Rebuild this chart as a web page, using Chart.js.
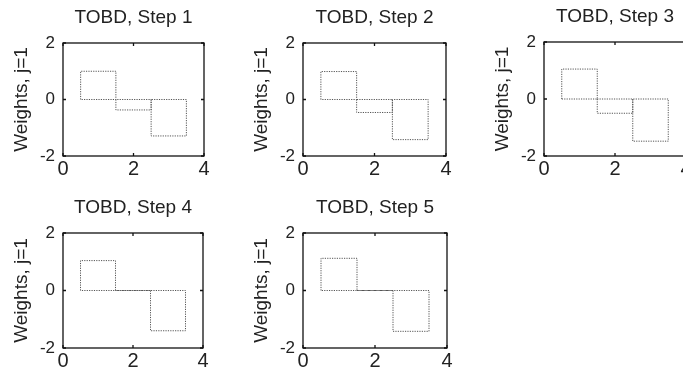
<!DOCTYPE html>
<html lang="en">
<head>
  <meta charset="UTF-8" />
  <title>TOBD weights</title>
  <script src="https://cdn.jsdelivr.net/npm/chart.js@4"></script>
  <style>
    html, body { margin: 0; padding: 0; background: #fff; }
    #fig { position: relative; width: 683px; height: 375px; overflow: hidden; background: #fff; }
    #fig canvas { position: absolute; }
  </style>
</head>
<body>
  <div id="fig"></div>

  <script>
    const centers = [1, 2, 3];
    const step1 = [1.0, -0.37, -1.29];
    const step2 = [0.99, -0.46, -1.42];
    const step3 = [1.05, -0.5, -1.48];
    const step4 = [1.04, 0, -1.4];
    const step5 = [1.12, 0, -1.42];
    const steps = [step1, step2, step3, step4, step5];
    const titles = ['TOBD, Step 1', 'TOBD, Step 2', 'TOBD, Step 3', 'TOBD, Step 4', 'TOBD, Step 5'];
    const xTicks = [0, 2, 4];
    const yTicks = [-2, 0, 2];
    const yLabel = 'Weights, j=1';

    // axes boxes on the page: left, top, right, bottom
    const boxes = [
      [63, 43, 204, 156],
      [303, 43, 446, 156],
      [544, 42, 686, 156],
      [63, 233, 203, 348],
      [303, 233, 447, 348]
    ];

    const FONT = '"Liberation Sans", Arial, Helvetica, sans-serif';
    const TEXT = '#222';
    const LEFT = 63, TOP = 45, BOTTOM = 30, RIGHT = 12;

    // closed outline of every bar (width 1), like MATLAB's bar()
    function barOutline(values) {
      const pts = [];
      values.forEach((v, i) => {
        const a = centers[i] - 0.5, b = centers[i] + 0.5;
        pts.push({x: a, y: 0}, {x: a, y: v}, {x: b, y: v}, {x: b, y: 0}, {x: a, y: 0});
        pts.push({x: b, y: null});
      });
      return pts;
    }

    // box round the plot and small inward ticks
    const boxPlugin = {
      id: 'box',
      afterDatasetsDraw(chart) {
        const {ctx, chartArea: a, scales} = chart;
        ctx.save();
        ctx.strokeStyle = '#111';
        ctx.lineWidth = 1.3;
        ctx.strokeRect(a.left, a.top, a.right - a.left, a.bottom - a.top);
        ctx.beginPath();
        xTicks.forEach(v => {
          const px = scales.x.getPixelForValue(v);
          ctx.moveTo(px, a.bottom); ctx.lineTo(px, a.bottom - 3);
          ctx.moveTo(px, a.top); ctx.lineTo(px, a.top + 3);
        });
        yTicks.forEach(v => {
          const py = scales.y.getPixelForValue(v);
          ctx.moveTo(a.left, py); ctx.lineTo(a.left + 3, py);
          ctx.moveTo(a.right, py); ctx.lineTo(a.right - 3, py);
        });
        ctx.stroke();
        ctx.restore();
      }
    };

    const fig = document.getElementById('fig');

    steps.forEach((vals, k) => {
      const [L, T, R, B] = boxes[k];
      const cv = document.createElement('canvas');
      const w = R - L + LEFT + RIGHT, h = B - T + TOP + BOTTOM;
      cv.width = w; cv.height = h;
      cv.style.width = w + 'px'; cv.style.height = h + 'px';
      cv.style.left = (L - LEFT) + 'px';
      cv.style.top = (T - TOP) + 'px';
      fig.appendChild(cv);

      new Chart(cv, {
        type: 'line',
        data: {
          datasets: [{
            data: barOutline(vals),
            borderColor: '#555',
            borderWidth: 1,
            borderDash: [1.2, 1.2],
            pointRadius: 0,
            fill: false,
            tension: 0,
            spanGaps: false
          }]
        },
        options: {
          responsive: false,
          animation: false,
          devicePixelRatio: 1,
          layout: { padding: { left: 0, right: RIGHT, top: 0, bottom: 0 } },
          plugins: {
            legend: { display: false },
            tooltip: { enabled: false },
            title: {
              display: true,
              text: titles[k],
              fullSize: false,
              color: TEXT,
              font: { family: FONT, size: 19, weight: 'normal', lineHeight: '20px' },
              padding: { top: 10, bottom: 15 }
            }
          },
          scales: {
            x: {
              type: 'linear',
              min: xTicks[0],
              max: xTicks[xTicks.length - 1],
              afterBuildTicks: s => { s.ticks = xTicks.map(v => ({value: v})); },
              afterFit: s => { s.height = BOTTOM; },
              grid: { display: false, drawTicks: false },
              border: { display: false },
              ticks: {
                color: TEXT,
                padding: 1,
                maxRotation: 0,
                font: { family: FONT, size: 20 }
              }
            },
            y: {
              type: 'linear',
              min: yTicks[0],
              max: yTicks[yTicks.length - 1],
              afterBuildTicks: s => { s.ticks = yTicks.map(v => ({value: v})); },
              afterFit: s => { s.width = LEFT; },
              grid: { display: false, drawTicks: false },
              border: { display: false },
              ticks: {
                color: TEXT,
                padding: 8,
                font: { family: FONT, size: 17 }
              },
              title: {
                display: true,
                text: yLabel,
                color: TEXT,
                font: { family: FONT, size: 19, lineHeight: '20px' },
                padding: { top: 12, bottom: 0 }
              }
            }
          }
        },
        plugins: [boxPlugin]
      });
    });
  </script>
</body>
</html>
